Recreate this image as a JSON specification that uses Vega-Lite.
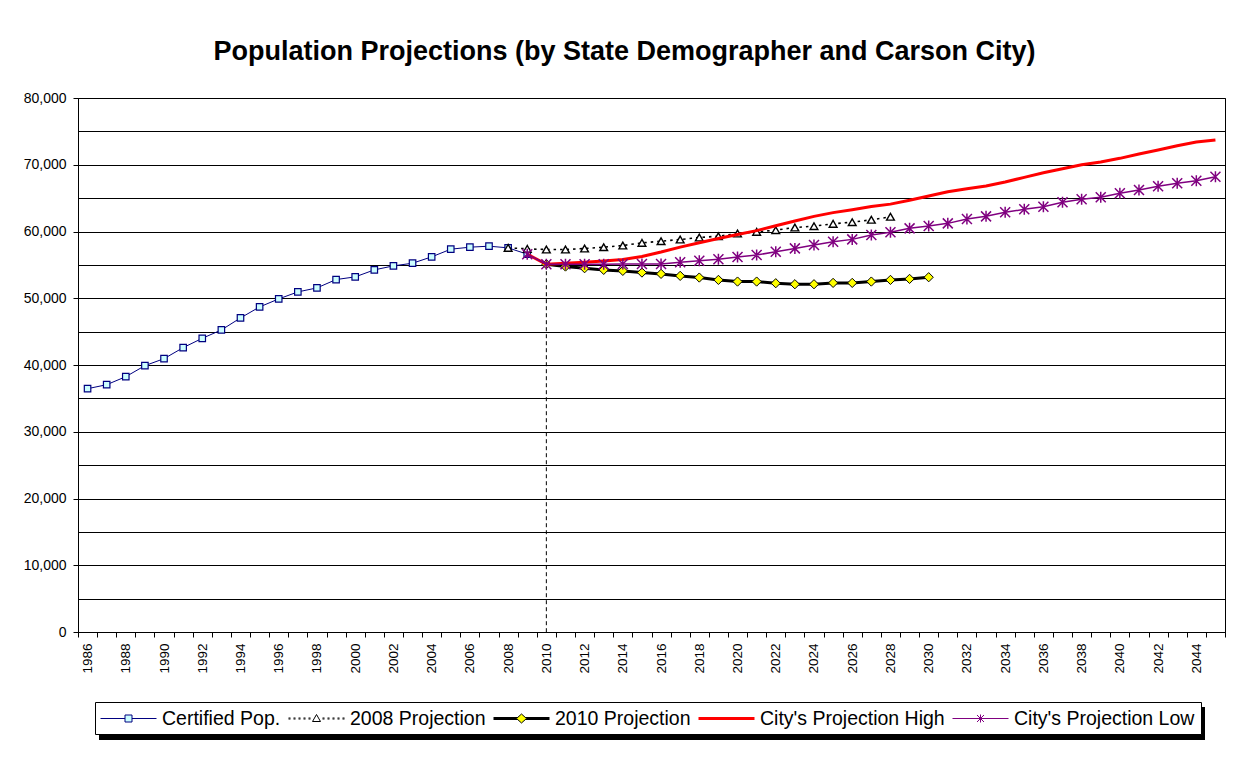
{
  "$schema": "https://vega.github.io/schema/vega-lite/v6.json",
  "width": 1147,
  "height": 534,
  "autosize": {"type": "none"},
  "padding": {"left": 78, "top": 98, "right": 11, "bottom": 137},
  "background": "white",
  "title": {
    "text": "Population Projections (by State Demographer and Carson City)",
    "font": "Liberation Sans",
    "fontSize": 27,
    "fontWeight": "bold",
    "color": "black",
    "anchor": "middle",
    "frame": "group",
    "baseline": "alphabetic",
    "offset": 4,
    "dx": -27
  },
  "config": {
    "font": "Liberation Sans",
    "view": {"stroke": "black", "strokeWidth": 1}
  },
  "datasets": {
    "pop": [
      {"series": "Certified Pop.", "year": 1986, "population": 36450},
      {"series": "Certified Pop.", "year": 1987, "population": 37050},
      {"series": "Certified Pop.", "year": 1988, "population": 38250},
      {"series": "Certified Pop.", "year": 1989, "population": 39900},
      {"series": "Certified Pop.", "year": 1990, "population": 40950},
      {"series": "Certified Pop.", "year": 1991, "population": 42600},
      {"series": "Certified Pop.", "year": 1992, "population": 44000},
      {"series": "Certified Pop.", "year": 1993, "population": 45250},
      {"series": "Certified Pop.", "year": 1994, "population": 47050},
      {"series": "Certified Pop.", "year": 1995, "population": 48700},
      {"series": "Certified Pop.", "year": 1996, "population": 49900},
      {"series": "Certified Pop.", "year": 1997, "population": 50950},
      {"series": "Certified Pop.", "year": 1998, "population": 51550},
      {"series": "Certified Pop.", "year": 1999, "population": 52800},
      {"series": "Certified Pop.", "year": 2000, "population": 53200},
      {"series": "Certified Pop.", "year": 2001, "population": 54250},
      {"series": "Certified Pop.", "year": 2002, "population": 54850},
      {"series": "Certified Pop.", "year": 2003, "population": 55250},
      {"series": "Certified Pop.", "year": 2004, "population": 56200},
      {"series": "Certified Pop.", "year": 2005, "population": 57350},
      {"series": "Certified Pop.", "year": 2006, "population": 57650},
      {"series": "Certified Pop.", "year": 2007, "population": 57800},
      {"series": "Certified Pop.", "year": 2008, "population": 57550},
      {"series": "Certified Pop.", "year": 2009, "population": 56600},
      {"series": "2008 Projection", "year": 2008, "population": 57550},
      {"series": "2008 Projection", "year": 2009, "population": 57400},
      {"series": "2008 Projection", "year": 2010, "population": 57300},
      {"series": "2008 Projection", "year": 2011, "population": 57300},
      {"series": "2008 Projection", "year": 2012, "population": 57450},
      {"series": "2008 Projection", "year": 2013, "population": 57650},
      {"series": "2008 Projection", "year": 2014, "population": 57900},
      {"series": "2008 Projection", "year": 2015, "population": 58300},
      {"series": "2008 Projection", "year": 2016, "population": 58550},
      {"series": "2008 Projection", "year": 2017, "population": 58800},
      {"series": "2008 Projection", "year": 2018, "population": 59100},
      {"series": "2008 Projection", "year": 2019, "population": 59300},
      {"series": "2008 Projection", "year": 2020, "population": 59700},
      {"series": "2008 Projection", "year": 2021, "population": 59950},
      {"series": "2008 Projection", "year": 2022, "population": 60200},
      {"series": "2008 Projection", "year": 2023, "population": 60600},
      {"series": "2008 Projection", "year": 2024, "population": 60800},
      {"series": "2008 Projection", "year": 2025, "population": 61150},
      {"series": "2008 Projection", "year": 2026, "population": 61400},
      {"series": "2008 Projection", "year": 2027, "population": 61750},
      {"series": "2008 Projection", "year": 2028, "population": 62200},
      {"series": "2010 Projection", "year": 2010, "population": 55100},
      {"series": "2010 Projection", "year": 2011, "population": 54750},
      {"series": "2010 Projection", "year": 2012, "population": 54500},
      {"series": "2010 Projection", "year": 2013, "population": 54250},
      {"series": "2010 Projection", "year": 2014, "population": 54100},
      {"series": "2010 Projection", "year": 2015, "population": 53850},
      {"series": "2010 Projection", "year": 2016, "population": 53650},
      {"series": "2010 Projection", "year": 2017, "population": 53350},
      {"series": "2010 Projection", "year": 2018, "population": 53100},
      {"series": "2010 Projection", "year": 2019, "population": 52750},
      {"series": "2010 Projection", "year": 2020, "population": 52500},
      {"series": "2010 Projection", "year": 2021, "population": 52500},
      {"series": "2010 Projection", "year": 2022, "population": 52250},
      {"series": "2010 Projection", "year": 2023, "population": 52100},
      {"series": "2010 Projection", "year": 2024, "population": 52100},
      {"series": "2010 Projection", "year": 2025, "population": 52300},
      {"series": "2010 Projection", "year": 2026, "population": 52300},
      {"series": "2010 Projection", "year": 2027, "population": 52500},
      {"series": "2010 Projection", "year": 2028, "population": 52750},
      {"series": "2010 Projection", "year": 2029, "population": 52900},
      {"series": "2010 Projection", "year": 2030, "population": 53150},
      {"series": "City's Projection High", "year": 2009, "population": 56600},
      {"series": "City's Projection High", "year": 2010, "population": 55100},
      {"series": "City's Projection High", "year": 2011, "population": 55230},
      {"series": "City's Projection High", "year": 2012, "population": 55380},
      {"series": "City's Projection High", "year": 2013, "population": 55580},
      {"series": "City's Projection High", "year": 2014, "population": 55800},
      {"series": "City's Projection High", "year": 2015, "population": 56250},
      {"series": "City's Projection High", "year": 2016, "population": 56920},
      {"series": "City's Projection High", "year": 2017, "population": 57660},
      {"series": "City's Projection High", "year": 2018, "population": 58320},
      {"series": "City's Projection High", "year": 2019, "population": 58960},
      {"series": "City's Projection High", "year": 2020, "population": 59550},
      {"series": "City's Projection High", "year": 2021, "population": 60130},
      {"series": "City's Projection High", "year": 2022, "population": 60850},
      {"series": "City's Projection High", "year": 2023, "population": 61580},
      {"series": "City's Projection High", "year": 2024, "population": 62270},
      {"series": "City's Projection High", "year": 2025, "population": 62830},
      {"series": "City's Projection High", "year": 2026, "population": 63260},
      {"series": "City's Projection High", "year": 2027, "population": 63740},
      {"series": "City's Projection High", "year": 2028, "population": 64100},
      {"series": "City's Projection High", "year": 2029, "population": 64670},
      {"series": "City's Projection High", "year": 2030, "population": 65310},
      {"series": "City's Projection High", "year": 2031, "population": 65960},
      {"series": "City's Projection High", "year": 2032, "population": 66410},
      {"series": "City's Projection High", "year": 2033, "population": 66810},
      {"series": "City's Projection High", "year": 2034, "population": 67410},
      {"series": "City's Projection High", "year": 2035, "population": 68110},
      {"series": "City's Projection High", "year": 2036, "population": 68810},
      {"series": "City's Projection High", "year": 2037, "population": 69400},
      {"series": "City's Projection High", "year": 2038, "population": 70000},
      {"series": "City's Projection High", "year": 2039, "population": 70400},
      {"series": "City's Projection High", "year": 2040, "population": 70960},
      {"series": "City's Projection High", "year": 2041, "population": 71600},
      {"series": "City's Projection High", "year": 2042, "population": 72200},
      {"series": "City's Projection High", "year": 2043, "population": 72850},
      {"series": "City's Projection High", "year": 2044, "population": 73400},
      {"series": "City's Projection High", "year": 2045, "population": 73700},
      {"series": "City's Projection Low", "year": 2009, "population": 56600},
      {"series": "City's Projection Low", "year": 2010, "population": 55100},
      {"series": "City's Projection Low", "year": 2011, "population": 55080},
      {"series": "City's Projection Low", "year": 2012, "population": 55080},
      {"series": "City's Projection Low", "year": 2013, "population": 55100},
      {"series": "City's Projection Low", "year": 2014, "population": 55130},
      {"series": "City's Projection Low", "year": 2015, "population": 55130},
      {"series": "City's Projection Low", "year": 2016, "population": 55130},
      {"series": "City's Projection Low", "year": 2017, "population": 55380},
      {"series": "City's Projection Low", "year": 2018, "population": 55630},
      {"series": "City's Projection Low", "year": 2019, "population": 55830},
      {"series": "City's Projection Low", "year": 2020, "population": 56170},
      {"series": "City's Projection Low", "year": 2021, "population": 56470},
      {"series": "City's Projection Low", "year": 2022, "population": 56970},
      {"series": "City's Projection Low", "year": 2023, "population": 57470},
      {"series": "City's Projection Low", "year": 2024, "population": 57970},
      {"series": "City's Projection Low", "year": 2025, "population": 58470},
      {"series": "City's Projection Low", "year": 2026, "population": 58820},
      {"series": "City's Projection Low", "year": 2027, "population": 59470},
      {"series": "City's Projection Low", "year": 2028, "population": 59900},
      {"series": "City's Projection Low", "year": 2029, "population": 60470},
      {"series": "City's Projection Low", "year": 2030, "population": 60820},
      {"series": "City's Projection Low", "year": 2031, "population": 61220},
      {"series": "City's Projection Low", "year": 2032, "population": 61870},
      {"series": "City's Projection Low", "year": 2033, "population": 62270},
      {"series": "City's Projection Low", "year": 2034, "population": 62870},
      {"series": "City's Projection Low", "year": 2035, "population": 63320},
      {"series": "City's Projection Low", "year": 2036, "population": 63720},
      {"series": "City's Projection Low", "year": 2037, "population": 64370},
      {"series": "City's Projection Low", "year": 2038, "population": 64820},
      {"series": "City's Projection Low", "year": 2039, "population": 65120},
      {"series": "City's Projection Low", "year": 2040, "population": 65720},
      {"series": "City's Projection Low", "year": 2041, "population": 66210},
      {"series": "City's Projection Low", "year": 2042, "population": 66770},
      {"series": "City's Projection Low", "year": 2043, "population": 67220},
      {"series": "City's Projection Low", "year": 2044, "population": 67610},
      {"series": "City's Projection Low", "year": 2045, "population": 68210}
    ]
  },
  "data": {"name": "pop"},
  "encoding": {
    "x": {
      "field": "year",
      "type": "quantitative",
      "scale": {"domain": [1985.5, 2045.5], "nice": false, "zero": false},
      "axis": {
        "title": null,
        "values": [1985.5,1986.5,1987.5,1988.5,1989.5,1990.5,1991.5,1992.5,1993.5,1994.5,1995.5,1996.5,1997.5,1998.5,1999.5,2000.5,2001.5,2002.5,2003.5,2004.5,2005.5,2006.5,2007.5,2008.5,2009.5,2010.5,2011.5,2012.5,2013.5,2014.5,2015.5,2016.5,2017.5,2018.5,2019.5,2020.5,2021.5,2022.5,2023.5,2024.5,2025.5,2026.5,2027.5,2028.5,2029.5,2030.5,2031.5,2032.5,2033.5,2034.5,2035.5,2036.5,2037.5,2038.5,2039.5,2040.5,2041.5,2042.5,2043.5,2044.5,2045.5],
        "labelExpr": "((datum.value + 0.5) % 2 === 0 && datum.value < 2045) ? toString(datum.value + 0.5) : ''",
        "labelOffset": 9.56,
        "labelAngle": 270,
        "labelAlign": "right",
        "labelBaseline": "middle",
        "labelPadding": 6,
        "labelFontSize": 13.5,
        "labelColor": "black",
        "labelOverlap": false,
        "labelBound": false,
        "labelFlush": false,
        "grid": false,
        "ticks": true,
        "tickSize": 5,
        "tickColor": "black",
        "domainColor": "black"
      }
    },
    "y": {
      "field": "population",
      "type": "quantitative",
      "scale": {"domain": [0, 80000], "nice": false},
      "axis": {
        "title": null,
        "values": [0,5000,10000,15000,20000,25000,30000,35000,40000,45000,50000,55000,60000,65000,70000,75000,80000],
        "labelExpr": "datum.value % 10000 === 0 ? format(datum.value, ',') : ''",
        "labelFontSize": 14,
        "labelColor": "black",
        "labelPadding": 7,
        "labelOverlap": false,
        "labelFlush": false,
        "tickSize": 5,
        "tickColor": "black",
        "tickOpacity": {"condition": {"test": "datum.value % 10000 !== 0", "value": 0}, "value": 1},
        "grid": true,
        "gridColor": "black",
        "gridOpacity": 1,
        "gridWidth": 1,
        "domainColor": "black"
      }
    }
  },
  "layer": [
    {
      "transform": [{"filter": "datum.series === '2010 Projection' && datum.year === 2010"}],
      "mark": {"type": "rule", "color": "black", "strokeWidth": 1, "strokeDash": [4, 3]},
      "encoding": {"y2": {"datum": 0}}
    },
    {
      "transform": [{"filter": {"field": "series", "equal": "Certified Pop."}}],
      "mark": {"type": "line", "strokeWidth": 1},
      "encoding": {
        "stroke": {
          "field": "series",
          "type": "nominal",
          "scale": {
            "domain": ["Certified Pop.", "2008 Projection", "2010 Projection", "City's Projection High", "City's Projection Low"],
            "range": ["#000080", "#000000", "#000000", "#FF0000", "#800080"]
          },
          "legend": {
            "title": null,
            "orient": "none",
            "legendX": 17,
            "legendY": 604,
            "zindex": 2,
            "direction": "horizontal",
            "columns": 5,
            "strokeColor": "black",
            "fillColor": "white",
            "padding": 6,
            "columnPadding": 5,
            "labelFont": "Liberation Sans",
            "labelFontSize": 19.5,
            "labelColor": "black",
            "labelLimit": 400,
            "labelOffset": 40,
            "symbolSize": 400,
            "symbolStrokeWidth": 1,
            "encode": {
              "symbols": {
                "update": {
                  "shape": {"signal": "datum.value === 'Certified Pop.' ? 'M-1.1,0H1.35M2.05,0H4.5M1.35,-0.35H2.05V0.35H1.35Z' : datum.value === '2008 Projection' ? 'M-1.1,-0.05H-0.9M-1.1,0.05H-0.9M-0.6,-0.05H-0.4M-0.6,0.05H-0.4M-0.1,-0.05H0.1M-0.1,0.05H0.1M0.4,-0.05H0.6M0.4,0.05H0.6M0.9,-0.05H1.1M0.9,0.05H1.1M2.3,-0.05H2.5M2.3,0.05H2.5M2.8,-0.05H3M2.8,0.05H3M3.3,-0.05H3.5M3.3,0.05H3.5M3.8,-0.05H4M3.8,0.05H4M4.3,-0.05H4.5M4.3,0.05H4.5M1.7,-0.4L2.1,0.3H1.3Z' : datum.value === '2010 Projection' ? 'M-1.1,-0.1H1.3M-1.1,0H1.2M-1.1,0.1H1.3M2.1,-0.1H4.5M2.2,0H4.5M2.1,0.1H4.5M1.7,-0.45L2.2,0L1.7,0.45L1.2,0Z' : datum.value === \"City's Projection High\" ? 'M-1.1,-0.1H4.5M-1.1,0H4.5M-1.1,0.1H4.5' : 'M-1.1,0H4.5M1.35,-0.35L2.05,0.35M1.35,0.35L2.05,-0.35M1.7,-0.4V0.4'"},
                  "fill": {"signal": "datum.value === 'Certified Pop.' ? '#CCFFFF' : datum.value === '2008 Projection' ? '#FFFFFF' : datum.value === '2010 Projection' ? '#FFFF00' : 'transparent'"}
                }
              }
            }
          }
        }
      }
    },
    {
      "transform": [{"filter": {"field": "series", "equal": "Certified Pop."}}],
      "mark": {"type": "point", "shape": "square", "size": 42, "filled": true, "fill": "#CCFFFF", "stroke": "#000080", "strokeWidth": 1.2, "opacity": 1}
    },
    {
      "transform": [{"filter": {"field": "series", "equal": "2008 Projection"}}],
      "mark": {"type": "line", "strokeWidth": 1.6, "strokeDash": [2.5, 4]},
      "encoding": {"stroke": {"field": "series", "type": "nominal"}}
    },
    {
      "transform": [{"filter": {"field": "series", "equal": "2008 Projection"}}],
      "mark": {"type": "point", "shape": "triangle-up", "size": 60, "filled": true, "fill": "#FFFFFF", "stroke": "black", "strokeWidth": 1.4, "opacity": 1}
    },
    {
      "transform": [{"filter": {"field": "series", "equal": "2010 Projection"}}],
      "mark": {"type": "line", "strokeWidth": 3},
      "encoding": {"stroke": {"field": "series", "type": "nominal"}}
    },
    {
      "transform": [{"filter": {"field": "series", "equal": "2010 Projection"}}],
      "mark": {"type": "point", "shape": "diamond", "size": 85, "filled": true, "fill": "#FFFF00", "stroke": "black", "strokeWidth": 1, "opacity": 1}
    },
    {
      "transform": [{"filter": {"field": "series", "equal": "City's Projection High"}}],
      "mark": {"type": "line", "strokeWidth": 3},
      "encoding": {"stroke": {"field": "series", "type": "nominal"}}
    },
    {
      "transform": [{"filter": {"field": "series", "equal": "City's Projection Low"}}],
      "mark": {"type": "line", "strokeWidth": 1.5},
      "encoding": {"stroke": {"field": "series", "type": "nominal"}}
    },
    {
      "transform": [{"filter": {"field": "series", "equal": "City's Projection Low"}}],
      "mark": {"type": "point", "shape": "M-1,-1L1,1M-1,1L1,-1M0,-1.1V1.1", "size": 100, "filled": false, "stroke": "#800080", "strokeWidth": 1.5, "opacity": 1},
      "encoding": {
        "fill": {
          "datum": 0,
          "type": "quantitative",
          "scale": {"domain": [0, 1], "range": ["#000000", "#000000"]},
          "legend": {
            "title": null,
            "orient": "none",
            "legendX": 21,
            "legendY": 609,
            "zindex": 1,
            "direction": "horizontal",
            "padding": 0,
            "values": [0],
            "labelExpr": "''",
            "labelFontSize": 1,
            "gradientLength": 1106,
            "gradientThickness": 33,
            "gradientStrokeColor": "black",
            "gradientStrokeWidth": 0
          }
        }
      }
    }
  ]
}
